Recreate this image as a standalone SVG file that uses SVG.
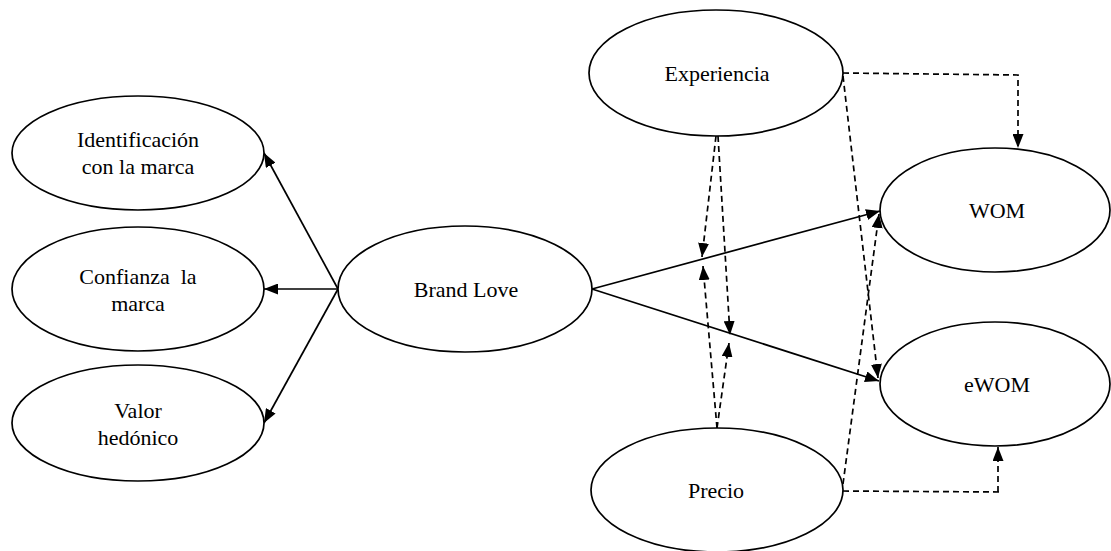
<svg xmlns="http://www.w3.org/2000/svg" width="1111" height="551" viewBox="0 0 1111 551">
  <defs>
    <style>
      .node ellipse { fill: #ffffff; stroke: #000000; stroke-width: 1.7; }
      .node text { font-family: 'Liberation Serif', 'DejaVu Serif', serif; font-size: 22px; fill: #000000; text-anchor: middle; }
      .solid { fill: none; stroke: #000000; stroke-width: 1.7; marker-end: url(#arrow); }
      .dash { fill: none; stroke: #000000; stroke-width: 1.7; stroke-dasharray: 6 4; }
      .dash.head { marker-end: url(#arrow); }
    </style>
    <marker id="arrow" viewBox="0 0 14 11" refX="14" refY="5.5" markerWidth="14" markerHeight="11" markerUnits="userSpaceOnUse" orient="auto">
      <path d="M0,0 L14,5.5 L0,11 z" fill="#000000"/>
    </marker>
  </defs>

  <rect x="0" y="0" width="1111" height="551" fill="#ffffff"/>

  <!-- connectors -->
  <g id="connectors">
    <!-- Brand Love to its dimensions -->
    <line class="solid" x1="338" y1="289" x2="264" y2="153"/>
    <line class="solid" x1="338" y1="289" x2="264" y2="289"/>
    <line class="solid" x1="338" y1="289" x2="264" y2="423"/>
    <!-- Brand Love to outcomes -->
    <line class="solid" x1="592" y1="289" x2="880" y2="211"/>
    <line class="solid" x1="592" y1="289" x2="879" y2="381"/>
    <!-- Experiencia moderation paths -->
    <polyline class="dash head" points="843,73 1018,75 1018,148"/>
    <line class="dash head" x1="843" y1="76" x2="878" y2="378"/>
    <line class="dash head" x1="716" y1="136" x2="702" y2="257"/>
    <line class="dash head" x1="718" y1="136" x2="730" y2="335"/>
    <!-- Precio moderation paths -->
    <line class="dash head" x1="717" y1="428" x2="703" y2="266"/>
    <line class="dash head" x1="717" y1="428" x2="729" y2="343"/>
    <line class="dash head" x1="843" y1="484" x2="879" y2="214"/>
    <polyline class="dash" points="843,491 1002,492"/>
    <line class="dash head" x1="998" y1="492" x2="998" y2="447"/>
  </g>

  <g id="identificacion" class="node" font-family="Liberation Serif, serif">
    <ellipse cx="138" cy="153" rx="126" ry="57"/>
    <text x="138" y="147">Identificación</text>
    <text x="138" y="174">con la marca</text>
  </g>

  <g id="confianza" class="node" font-family="Liberation Serif, serif">
    <ellipse cx="138" cy="289" rx="126" ry="62"/>
    <text x="138" y="284" xml:space="preserve">Confianza  la</text>
    <text x="138" y="311">marca</text>
  </g>

  <g id="valor" class="node" font-family="Liberation Serif, serif">
    <ellipse cx="138" cy="423" rx="126" ry="58"/>
    <text x="138" y="418">Valor</text>
    <text x="138" y="445">hedónico</text>
  </g>

  <g id="brand-love" class="node" font-family="Liberation Serif, serif">
    <ellipse cx="465" cy="289" rx="127" ry="63"/>
    <text x="466" y="297">Brand Love</text>
  </g>

  <g id="experiencia" class="node" font-family="Liberation Serif, serif">
    <ellipse cx="716" cy="73" rx="127" ry="63"/>
    <text x="717" y="81">Experiencia</text>
  </g>

  <g id="precio" class="node" font-family="Liberation Serif, serif">
    <ellipse cx="717" cy="490" rx="126" ry="62"/>
    <text x="716" y="498">Precio</text>
  </g>

  <g id="wom" class="node" font-family="Liberation Serif, serif">
    <ellipse cx="995" cy="210" rx="115" ry="62"/>
    <text x="997" y="218">WOM</text>
  </g>

  <g id="ewom" class="node" font-family="Liberation Serif, serif">
    <ellipse cx="995" cy="384" rx="115" ry="62"/>
    <text x="997" y="392">eWOM</text>
  </g>
</svg>
